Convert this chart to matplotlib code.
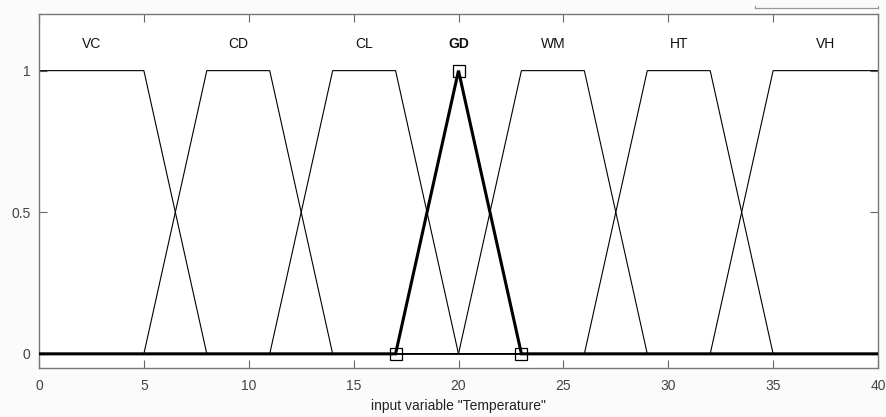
import matplotlib
matplotlib.use("Agg")
import matplotlib.pyplot as plt
from matplotlib.lines import Line2D

plt.rcParams['font.family'] = ['Liberation Sans', 'DejaVu Sans']

# membership functions of input "Temperature" (trapmf params a, b, c, d)
mf_names = ['VC', 'CD', 'CL', 'GD', 'WM', 'HT', 'VH']
mf_params = [
    [0, 0, 5, 8],
    [5, 8, 11, 14],
    [11, 14, 17, 20],
    [17, 20, 20, 23],
    [20, 23, 26, 29],
    [26, 29, 32, 35],
    [32, 35, 40, 40],
]
selected = 'GD'
x_range = [0, 40]
x_ticks = [0, 5, 10, 15, 20, 25, 30, 35, 40]
y_ticks = [0, 0.5, 1]


def trapmf(x, p):
    a, b, c, d = p
    if b <= x <= c:
        return 1.0
    if a < x < b:
        return (x - a) / (b - a)
    if c < x < d:
        return (d - x) / (d - c)
    return 0.0


fig = plt.figure(figsize=(8.86, 4.17), dpi=100, facecolor='#fbfbfb')
ax = fig.add_axes([39 / 886, 1 - 368 / 417, (878 - 39) / 886, (368 - 14) / 417])
ax.set_facecolor('white')

for name, p in zip(mf_names, mf_params):
    pts = sorted(set([x_range[0], x_range[1]] + [v for v in p if x_range[0] <= v <= x_range[1]]))
    ys = [trapmf(v, p) for v in pts]
    bold = name == selected
    ax.plot(pts, ys, color='black', lw=2.2 if bold else 0.8,
            zorder=3 if bold else 2, solid_joinstyle='miter')
    if bold:
        vx = sorted(set(p))
        ax.plot(vx, [trapmf(v, p) for v in vx], ls='none', marker='s',
                ms=8, mfc='none', mec='black', mew=0.9, zorder=4)
    ax.text((p[1] + p[2]) / 2, 1.095, name, ha='center', va='center',
            fontsize=10, color='#111111',
            fontweight='bold' if bold else 'normal')

ax.set_xlim(*x_range)
ax.set_ylim(-0.05, 1.2)
ax.set_xticks(x_ticks)
ax.set_xticklabels([str(t) for t in x_ticks])
ax.set_yticks(y_ticks)
ax.set_yticklabels(['0', '0.5', '1'])
ax.tick_params(direction='in', length=6, width=0.8, colors='#666666',
               labelcolor='#444444', labelsize=10, top=True, right=True)
ax.tick_params(axis='x', pad=8)
ax.tick_params(axis='y', pad=6)
for s in ax.spines.values():
    s.set_color('#777777')
    s.set_linewidth(1.0)
ax.set_xlabel('input variable "Temperature"', fontsize=10, color='#222222',
              labelpad=4)

# fragment of neighbouring panel at top right
fy = 1 - 8.3 / 417
fy2 = 1 - 5.5 / 417
x0, x1 = 755 / 886, 878 / 886
fig.add_artist(Line2D([x0, x1], [fy, fy], color='#999999', lw=0.9))
fig.add_artist(Line2D([x0, x0], [fy, fy2], color='#999999', lw=0.9))
fig.add_artist(Line2D([x1, x1], [fy, fy2], color='#999999', lw=0.9))

fig.savefig('out.png', dpi=100, facecolor=fig.get_facecolor())
